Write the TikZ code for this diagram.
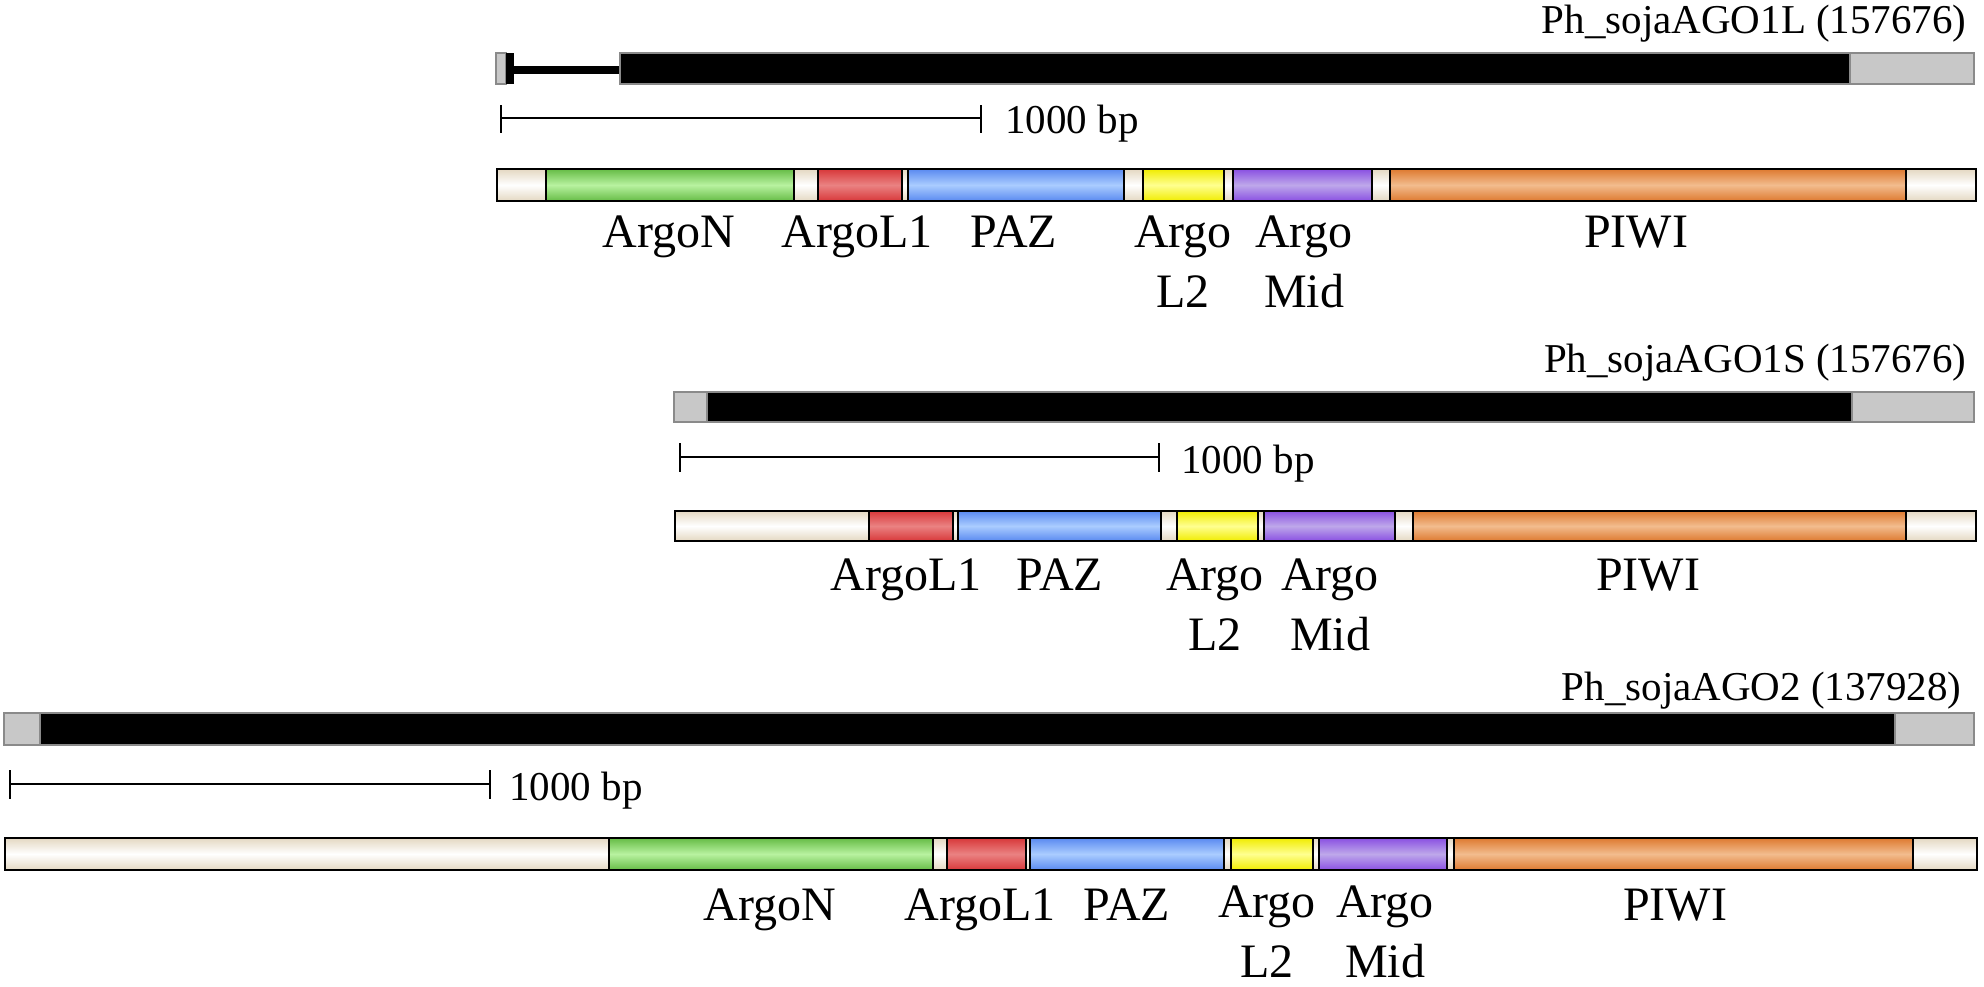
\documentclass[tikz,border=0pt]{standalone}
\usepackage{fontspec}
\setmainfont{Liberation Serif}
\usetikzlibrary{positioning}

\definecolor{utrgrey}{HTML}{C8C8C8}
\definecolor{edgegrey}{HTML}{8A8A8A}
\definecolor{creamE}{HTML}{E4D8C2}
\definecolor{greenE}{HTML}{66BC46}
\definecolor{greenM}{HTML}{B8F2A0}
\definecolor{redE}{HTML}{D8383A}
\definecolor{redM}{HTML}{EA8282}
\definecolor{blueE}{HTML}{5A8AF0}
\definecolor{blueM}{HTML}{AACCFF}
\definecolor{yelE}{HTML}{F0EC00}
\definecolor{yelM}{HTML}{FFFF90}
\definecolor{purE}{HTML}{8A50E2}
\definecolor{purM}{HTML}{BEA8EA}
\definecolor{oraE}{HTML}{DE7A30}
\definecolor{oraM}{HTML}{F2BC8E}

\tikzset{
  seg/.style={draw=black, line width=1.3pt},
  utr/.style={seg, top color=creamE, bottom color=creamE, middle color=white},
  argon/.style={seg, top color=greenE, bottom color=greenE, middle color=greenM},
  argol/.style={seg, top color=redE, bottom color=redE, middle color=redM},
  paz/.style={seg, top color=blueE, bottom color=blueE, middle color=blueM},
  argolt/.style={seg, top color=yelE, bottom color=yelE, middle color=yelM},
  argomid/.style={seg, top color=purE, bottom color=purE, middle color=purM},
  piwi/.style={seg, top color=oraE, bottom color=oraE, middle color=oraM},
  cds/.style={fill=black, draw=edgegrey, line width=0.6pt},
  ends/.style={fill=utrgrey, draw=edgegrey, line width=0.6pt},
  scalebar/.style={line width=1.4pt},
  lbl/.style={font=\fontsize{24}{30}\selectfont, anchor=base, inner sep=0pt, align=center},
  bptext/.style={font=\fontsize{20.5}{24}\selectfont, anchor=base west, inner sep=0pt},
  genename/.style={font=\fontsize{20.5}{24}\selectfont, anchor=base east, inner sep=0pt}
}

\begin{document}
\begin{tikzpicture}[x=0.5pt,y=-0.5pt]
\fill[white] (0,0) rectangle (1984,986);
\useasboundingbox (0,0) rectangle (1984,986);

% --- Ph_sojaAGO1L
\node[genename] (g1) at (1967,33) {Ph\_sojaAGO1L (157676)};
\draw[ends] (496,53) rectangle (506,84);
\fill (506,53) rectangle (514,84);
\fill (514,66) rectangle (620,74);
\draw[cds] (620,53) rectangle (1850,84);
\draw[ends] (1850,53) rectangle (1974,84);

\draw[scalebar] (501,105) -- (501,133) (501,118) -- (981,118) (981,105) -- (981,133);
\node[bptext] (bp1) at (1005,133) {1000 bp};

\foreach \a/\b/\s in {497/546/utr, 546/794/argon, 794/818/utr, 818/902/argol,
  902/908/utr, 908/1124/paz, 1124/1143/utr, 1143/1224/argolt, 1224/1233/utr,
  1233/1372/argomid, 1372/1390/utr, 1390/1906/piwi, 1906/1976/utr}
  \draw[\s] (\a,169) rectangle (\b,201);

% two-line labels sit on the baseline of their last line
\node[lbl] (n1) at (669,247) {ArgoN};
\node[lbl] (lone1) at (857,247) {ArgoL1};
\node[lbl] (paz1) at (1014,247) {PAZ};
\node[lbl] (ltwo1) at (1183,307) {Argo\\L2};
\node[lbl] (mid1) at (1304,307) {Argo\\Mid};
\node[lbl] (piwi1) at (1636,247) {PIWI};

% --- Ph_sojaAGO1S
\node[genename] (g2) at (1967,372) {Ph\_sojaAGO1S (157676)};
\draw[ends] (674,392) rectangle (707,422);
\draw[cds] (707,392) rectangle (1852,422);
\draw[ends] (1852,392) rectangle (1974,422);

\draw[scalebar] (680,443) -- (680,472) (680,457) -- (1159,457) (1159,443) -- (1159,472);
\node[bptext] (bp2) at (1181,473) {1000 bp};

\foreach \a/\b/\s in {675/869/utr, 869/953/argol, 953/958/utr, 958/1161/paz,
  1161/1177/utr, 1177/1258/argolt, 1258/1264/utr, 1264/1395/argomid,
  1395/1413/utr, 1413/1906/piwi, 1906/1976/utr}
  \draw[\s] (\a,511) rectangle (\b,541);

\node[lbl] (lone2) at (906,590) {ArgoL1};
\node[lbl] (paz2) at (1060,590) {PAZ};
\node[lbl] (ltwo2) at (1215,650) {Argo\\L2};
\node[lbl] (mid2) at (1330,650) {Argo\\Mid};
\node[lbl] (piwi2) at (1648,590) {PIWI};

% --- Ph_sojaAGO2
\node[genename] (g3) at (1962,700) {Ph\_sojaAGO2 (137928)};
\draw[ends] (4,713) rectangle (40,745);
\draw[cds] (40,713) rectangle (1895,745);
\draw[ends] (1895,713) rectangle (1974,745);

\draw[scalebar] (10,770) -- (10,799) (10,784) -- (490,784) (490,770) -- (490,799);
\node[bptext] (bp3) at (509,800) {1000 bp};

\foreach \a/\b/\s in {5/609/utr, 609/933/argon, 933/947/utr, 947/1026/argol,
  1026/1030/utr, 1030/1224/paz, 1224/1231/utr, 1231/1313/argolt, 1313/1319/utr,
  1319/1447/argomid, 1447/1454/utr, 1454/1913/piwi, 1913/1977/utr}
  \draw[\s] (\a,838) rectangle (\b,870);

\node[lbl] (n3) at (770,920) {ArgoN};
\node[lbl] (lone3) at (980,920) {ArgoL1};
\node[lbl] (paz3) at (1127,920) {PAZ};
\node[lbl] (ltwo3) at (1267,977) {Argo\\L2};
\node[lbl] (mid3) at (1385,977) {Argo\\Mid};
\node[lbl] (piwi3) at (1675,920) {PIWI};
\end{tikzpicture}
\end{document}
